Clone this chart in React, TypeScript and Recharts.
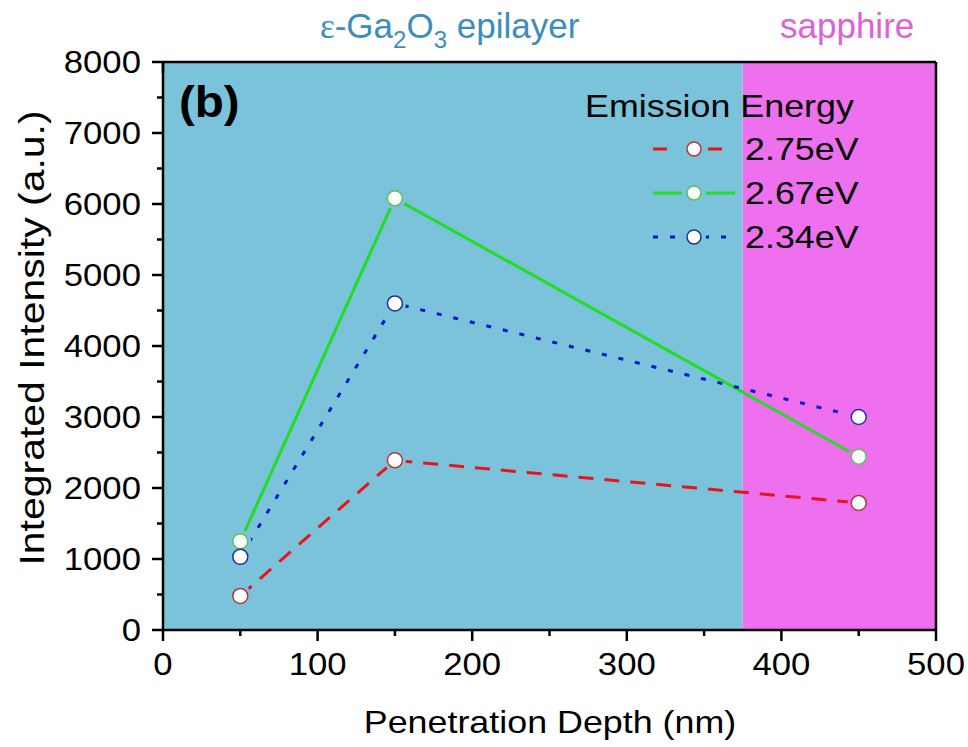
import { LineChart, Line, XAxis, YAxis, ReferenceArea } from 'recharts';

// values
const depthNm = [50, 150, 450];
const emission275 = [480, 2390, 1790];
const emission267 = [1250, 6080, 2440];
const emission234 = [1030, 4600, 3000];

const xMajor = [0, 100, 200, 300, 400, 500];
const xMinor = [50, 150, 250, 350, 450];
const yMajor = [0, 1000, 2000, 3000, 4000, 5000, 6000, 7000, 8000];
const yMinor = [500, 1500, 2500, 3500, 4500, 5500, 6500, 7500];

const epilayerEnd = 375;
const depthMax = 500;
const intensityMax = 8000;

const EPI_BG = '#7AC3DB';
const SAP_BG = '#EE70EE';
const FONT = '"Liberation Sans", Arial, sans-serif';
const SX = 1.12; // the figure is a bit wider than tall

const series = [
  { key: 'e275', label: '2.75eV', values: emission275, color: '#E8141C', edge: '#B03838', dash: '15 11', legendDash: '14 41 14 100' },
  { key: 'e267', label: '2.67eV', values: emission267, color: '#22DD22', edge: '#5CC05C', dash: undefined, legendDash: undefined },
  { key: 'e234', label: '2.34eV', values: emission234, color: '#0A14CC', edge: '#22309C', dash: '5 12', legendDash: '5 12' },
];

const rows = depthNm.map((depth, i) => {
  const row: Record<string, number> = { depth };
  series.forEach((s) => { row[s.key] = s.values[i]; });
  return row;
});

const xTicks = [...xMajor, ...xMinor].sort((a, b) => a - b);
const yTicks = [...yMajor, ...yMinor].sort((a, b) => a - b);

const AXIS_LINE = { stroke: '#000', strokeWidth: 2.5 };

function BottomTick({ x, y, payload }: any) {
  const major = payload.value % 100 === 0;
  return (
    <g>
      <line x1={x} x2={x} y1={y} y2={y + (major ? 11 : 6)} stroke="#000" strokeWidth={2.5} />
      {major && (
        <text transform={`translate(${x},${y + 45}) scale(${SX},1)`} textAnchor="middle" fontSize={31} fontFamily={FONT} fill="#000">
          {payload.value}
        </text>
      )}
    </g>
  );
}

function TopTick({ x, y, payload }: any) {
  const major = payload.value % 100 === 0;
  return <line x1={x} x2={x} y1={y} y2={y + (major ? 11 : 6)} stroke="#000" strokeWidth={2.5} />;
}

function LeftTick({ x, y, payload }: any) {
  const major = payload.value % 1000 === 0;
  return (
    <g>
      <line x1={x} x2={x - (major ? 11 : 6)} y1={y} y2={y} stroke="#000" strokeWidth={2.5} />
      {major && (
        <text transform={`translate(${x - 22},${y + 11}) scale(${SX},1)`} textAnchor="end" fontSize={31} fontFamily={FONT} fill="#000">
          {payload.value}
        </text>
      )}
    </g>
  );
}

function RightTick({ x, y, payload }: any) {
  const major = payload.value % 1000 === 0;
  return <line x1={x} x2={x - (major ? 11 : 6)} y1={y} y2={y} stroke="#000" strokeWidth={2.5} />;
}

// Origin leaves a small gap between the line and the symbol
const gapDot = (props: any) => {
  const { cx, cy, payload, index } = props;
  return <circle key={`gap-${index}`} cx={cx} cy={cy} r={11} fill={payload.depth < epilayerEnd ? EPI_BG : SAP_BG} />;
};

const markerDot = (edge: string) => (props: any) => {
  const { cx, cy, index } = props;
  return <circle key={`m-${index}`} cx={cx} cy={cy} r={7.5} fill="#fff" stroke={edge} strokeWidth={1.5} />;
};

function Overlay() {
  const legendRows = [149, 193, 237];
  return (
    <svg width={968} height={747} style={{ position: 'absolute', left: 0, top: 0, pointerEvents: 'none' }} fontFamily={FONT}>
      <text x={320} y={38} fontSize={35} fill="#3C8DBB">
        <tspan fontFamily='"Liberation Serif", serif'>ε</tspan>-Ga<tspan fontSize={24} dy={10}>2</tspan><tspan dy={-10}>O</tspan><tspan fontSize={24} dy={10}>3</tspan><tspan dy={-10}> epilayer</tspan>
      </text>
      <text x={780} y={38} fontSize={35} fill="#E060D6">sapphire</text>

      <text transform={`translate(179,117) scale(1.08,1)`} fontSize={44} fontWeight="bold" fill="#000">(b)</text>

      <text transform={`translate(585,117) scale(${SX},1)`} fontSize={32} fill="#000">Emission Energy</text>
      {series.map((s, i) => {
        const cy = legendRows[i];
        return (
          <g key={s.key}>
            <line x1={653} x2={735} y1={cy} y2={cy} stroke={s.color} strokeWidth={3} strokeDasharray={s.legendDash} />
            <circle cx={694} cy={cy} r={12} fill={EPI_BG} />
            <circle cx={694} cy={cy} r={7} fill="#fff" stroke={s.edge} strokeWidth={1.5} />
            <text transform={`translate(745,${cy + 11}) scale(${SX},1)`} fontSize={32} fill="#000">{s.label}</text>
          </g>
        );
      })}

      <text transform={`translate(550,733) scale(${SX},1)`} textAnchor="middle" fontSize={32} fill="#000">Penetration Depth (nm)</text>
      <text transform={`translate(44,338) rotate(-90) scale(1.17,1)`} textAnchor="middle" fontSize={35} fill="#000">Integrated Intensity (a.u.)</text>
    </svg>
  );
}

export default function App() {
  return (
    <div style={{ position: 'absolute', left: 0, top: 0, width: 968, height: 747, background: '#fff' }}>
      <LineChart width={968} height={747} data={rows} margin={{ top: 0, right: 0, bottom: 0, left: 0 }}>
        <ReferenceArea xAxisId="x" yAxisId="y" x1={0} x2={epilayerEnd} y1={0} y2={intensityMax} fill={EPI_BG} fillOpacity={1} stroke="none" />
        <ReferenceArea xAxisId="x" yAxisId="y" x1={epilayerEnd} x2={depthMax} y1={0} y2={intensityMax} fill={SAP_BG} fillOpacity={1} stroke="none" />

        <XAxis xAxisId="x" dataKey="depth" type="number" domain={[0, depthMax]} ticks={xTicks} interval={0}
          height={117} tickSize={0} tickMargin={0} tick={BottomTick} tickLine={false} axisLine={AXIS_LINE} />
        <XAxis xAxisId="top" orientation="top" type="number" domain={[0, depthMax]} ticks={xTicks} interval={0}
          height={62} tickSize={0} tickMargin={0} tick={TopTick} tickLine={false} axisLine={AXIS_LINE} />
        <YAxis yAxisId="y" type="number" domain={[0, intensityMax]} ticks={yTicks} interval={0}
          width={163} tickSize={0} tickMargin={0} tick={LeftTick} tickLine={false} axisLine={AXIS_LINE} />
        <YAxis yAxisId="right" orientation="right" type="number" domain={[0, intensityMax]} ticks={yTicks} interval={0}
          width={32} tickSize={0} tickMargin={0} tick={RightTick} tickLine={false} axisLine={AXIS_LINE} />

        {series.map((s) => (
          <Line key={s.key} xAxisId="x" yAxisId="y" type="linear" dataKey={s.key} stroke={s.color} strokeWidth={3}
            strokeDasharray={s.dash} dot={gapDot} activeDot={false} isAnimationActive={false} legendType="none" />
        ))}
        {series.map((s) => (
          <Line key={`${s.key}-m`} xAxisId="x" yAxisId="y" type="linear" dataKey={s.key} stroke="none"
            dot={markerDot(s.edge)} activeDot={false} isAnimationActive={false} legendType="none" />
        ))}
      </LineChart>
      <Overlay />
    </div>
  );
}
